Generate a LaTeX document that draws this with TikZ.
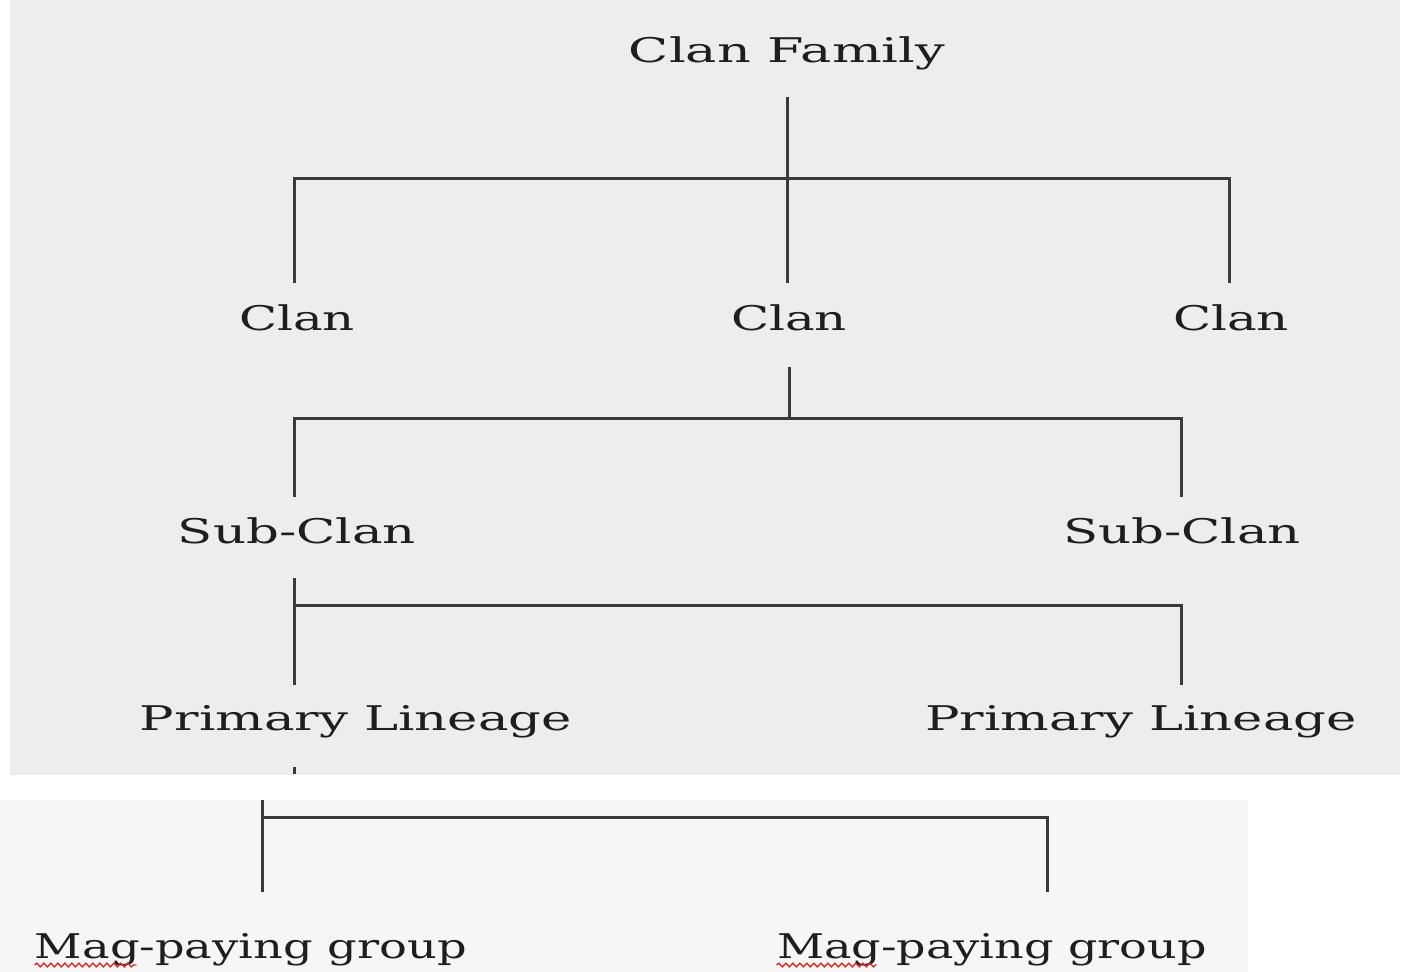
\documentclass[tikz,border=0pt]{standalone}
\usepackage{fontspec}
\usepackage{graphicx}
\setmainfont{DejaVu Serif}
\usetikzlibrary{decorations.pathmorphing,calc}
\definecolor{bgtop}{HTML}{EDEDED}
\definecolor{bgbot}{HTML}{F6F6F6}
\definecolor{ink}{HTML}{1E1E1E}
\definecolor{linec}{HTML}{3A3A3A}
\definecolor{wavy}{HTML}{D03030}
\newcommand{\fitw}[2]{\resizebox{#1}{\height}{#2}}
\begin{document}
\begin{tikzpicture}[x=0.5pt,y=-0.5pt,
  lbl/.style={anchor=base,inner sep=0pt,text=ink,font=\fontsize{17}{19}\selectfont},
  link/.style={draw=linec,line width=1.5pt,line join=miter},
  squig/.style={draw=wavy,line width=0.7pt,decorate,decoration={snake,amplitude=0.9pt,segment length=3.5pt}}]
\useasboundingbox (0,0) rectangle (1406,972);
\fill[white] (0,0) rectangle (1406,972);
\fill[bgtop] (10,0) rectangle (1400,775);
\fill[bgbot] (0,800) rectangle (1248,972);

% labels
\node[lbl] (cf) at (787,63) {\fitw{158pt}{Clan Family}};
\node[lbl] (c1) at (297,331) {\fitw{58pt}{Clan}};
\node[lbl] (c2) at (789,331) {\fitw{58pt}{Clan}};
\node[lbl] (c3) at (1231,331) {\fitw{58pt}{Clan}};
\node[lbl] (s1) at (297,543) {\fitw{119pt}{Sub-Clan}};
\node[lbl] (s2) at (1182,543) {\fitw{119pt}{Sub-Clan}};
\node[lbl] (p1) at (356,730) {\fitw{216pt}{Primary Lineage}};
\node[lbl] (p2) at (1141,730) {\fitw{216pt}{Primary Lineage}};
\node[lbl] (m1) at (251,958) {\fitw{216pt}{Mag-paying group}};
\node[lbl] (m2) at (992,958) {\fitw{215pt}{Mag-paying group}};

% connector points
\coordinate (t0) at (787,97);
\coordinate (t1) at (787,283);
\coordinate (h1l) at (294,179);
\coordinate (h1r) at (1229,179);
\coordinate (c1t) at (294,283);
\coordinate (c3t) at (1229,283);

\coordinate (c2b) at (789,367);
\coordinate (h2m) at (789,419);
\coordinate (h2l) at (294,419);
\coordinate (h2r) at (1181,419);
\coordinate (s1t) at (294,497);
\coordinate (s2t) at (1181,497);

\coordinate (s1b) at (294,578);
\coordinate (p1t) at (294,685);
\coordinate (h3l) at (294,605);
\coordinate (h3r) at (1181,605);
\coordinate (p2t) at (1181,685);

\coordinate (p1b) at (294,767);
\coordinate (p1bb) at (294,774);

\coordinate (m0) at (262,800);
\coordinate (m1t) at (262,892);
\coordinate (h4l) at (262,817);
\coordinate (h4r) at (1047,817);
\coordinate (m2t) at (1047,892);

% connectors
\draw[link] (t0) -- (t1);
\draw[link] (c1t) -- (h1l) -- (h1r) -- (c3t);
\draw[link] (c2b) -- (h2m);
\draw[link] (s1t) -- (h2l) -- (h2r) -- (s2t);
\draw[link] (s1b) -- (p1t);
\draw[link] (h3l) -- (h3r) -- (p2t);
\draw[link] (p1b) -- (p1bb);
\draw[link] (m0) -- (m1t);
\draw[link] (h4l) -- (h4r) -- (m2t);

% spell-check underlines
\draw[squig] ($(m1.base west)+(0,7)$) -- ++(102,0);
\draw[squig] ($(m2.base west)+(0,7)$) -- ++(100,0);
\end{tikzpicture}
\end{document}
